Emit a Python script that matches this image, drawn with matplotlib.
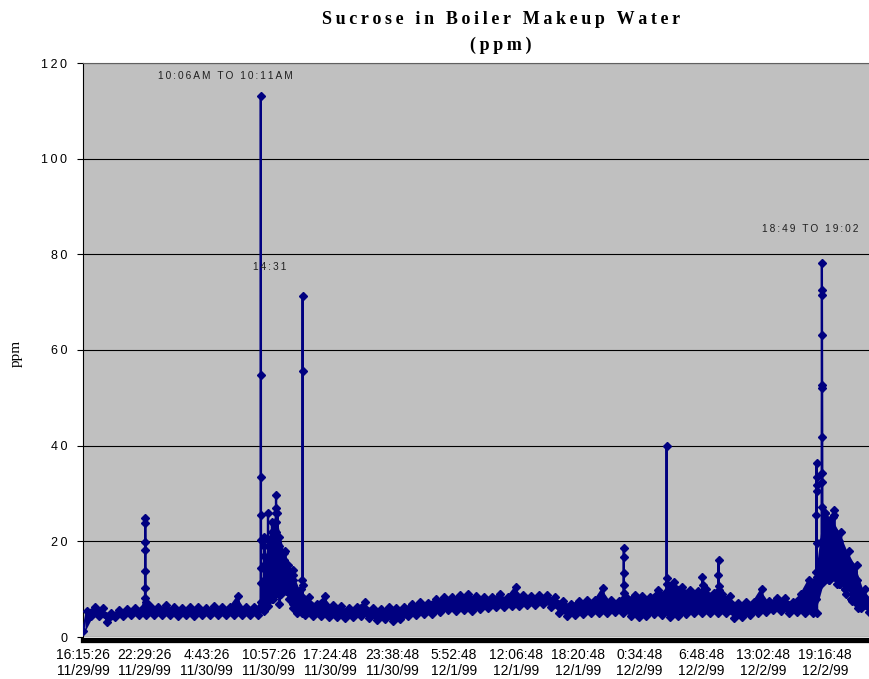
import numpy as np
import matplotlib.pyplot as plt

# category axis: one sample per minute, a label every 374 samples
tick_labels = ['16:15:26\n11/29/99', '22:29:26\n11/29/99', '4:43:26\n11/30/99',
               '10:57:26\n11/30/99', '17:24:48\n11/30/99', '23:38:48\n11/30/99',
               '5:52:48\n12/1/99', '12:06:48\n12/1/99', '18:20:48\n12/1/99',
               '0:34:48\n12/2/99', '6:48:48\n12/2/99', '13:02:48\n12/2/99',
               '19:16:48\n12/2/99']
label_every = 374
n_samples = 4760

# baseline band, low / high reading every 48 samples (ppm)
band_step = 48
band_lo = [1.2, 4.4, 4.3, 3.2, 4.2, 4.4, 4.6, 4.6, 4.7, 4.6,
           4.6, 4.5, 4.4, 4.5, 4.4, 4.5, 4.6, 4.6, 4.5, 4.7,
           4.6, 4.6, 4.7, 6.5, 8.0, 9.0, 8.0, 5.0, 4.5, 4.4,
           4.4, 4.2, 4.2, 4.0, 4.2, 4.4, 4.0, 3.6, 3.8, 3.3,
           3.8, 4.3, 4.6, 4.8, 4.8, 5.2, 5.6, 5.5, 5.6, 5.5,
           5.8, 6.0, 6.2, 6.3, 6.5, 6.5, 6.6, 6.7, 6.8, 6.3,
           5.0, 4.4, 4.5, 4.8, 5.0, 5.0, 5.0, 5.2, 5.0, 4.4,
           4.2, 4.4, 4.8, 4.6, 4.2, 4.4, 4.8, 5.0, 5.0, 5.0,
           5.0, 5.0, 4.0, 4.2, 4.6, 5.0, 5.3, 5.6, 5.4, 5.0,
           5.2, 5.0, 5.0, 11.0, 12.0, 11.0, 10.0, 8.0, 6.0, 5.2]
band_hi = [5.5, 6.3, 6.0, 5.0, 5.6, 5.9, 6.0, 6.1, 6.4, 6.3,
           6.6, 6.2, 6.0, 6.2, 6.3, 6.1, 6.4, 6.3, 6.2, 8.5,
           6.2, 6.3, 6.6, 20.0, 26.0, 18.0, 14.0, 10.0, 8.4, 7.0,
           8.5, 6.6, 6.4, 6.0, 6.3, 7.3, 6.0, 5.9, 6.3, 6.0,
           6.3, 7.0, 7.4, 7.2, 8.0, 8.3, 8.4, 8.8, 9.0, 8.6,
           8.4, 8.3, 9.0, 8.4, 10.5, 8.7, 8.6, 8.7, 8.8, 8.3,
           7.6, 7.0, 7.6, 7.8, 7.7, 10.2, 7.8, 7.6, 8.2, 8.8,
           8.5, 8.3, 9.8, 9.5, 11.5, 10.5, 9.8, 9.6, 10.0, 9.2,
           9.0, 8.6, 7.2, 7.3, 7.4, 10.0, 7.6, 8.2, 8.2, 7.4,
           9.0, 12.0, 12.5, 26.0, 25.0, 22.0, 18.0, 15.0, 10.0, 8.0]

# short events: sample position and the consecutive readings there (ppm)
spike_pos = [375, 1074, 1094, 1118, 1142, 1166, 1184, 1214, 1238, 1269,
             1327, 3269, 3529, 3746, 3843, 4435, 4467, 4489, 4513, 4543,
             4574, 4610, 4646, 4683]
spike_vals = [
    [8.1, 13.7, 23.8, 24.8, 19.9, 18.2, 10.2, 7.4],
    [7.4, 14.4, 33.5, 113.0, 54.8, 25.5, 20.3, 11.3, 6.5],
    [5.5, 12.0, 19.0, 15.0, 9.0, 17.0, 21.0, 10.0],
    [6.5, 20.5, 25.9, 14.5, 7.5],
    [9.0, 18.0, 24.0, 17.0, 11.0, 22.0, 14.0, 8.0],
    [12.0, 22.0, 27.0, 29.7, 26.0, 20.0, 16.0, 10.0, 24.0, 13.0],
    [9.0, 17.0, 21.0, 12.0, 19.0, 7.0],
    [10.0, 16.0, 13.0, 17.5, 11.0],
    [9.5, 14.0, 11.0, 15.0, 10.0],
    [7.0, 13.0, 9.0, 12.0, 6.0],
    [5.0, 11.9, 55.7, 71.3, 10.9, 6.0],
    [6.0, 9.1, 13.3, 16.8, 18.7, 10.9, 8.1, 6.5],
    [6.0, 12.3, 39.9, 11.0, 7.0],
    [7.0, 12.5, 10.9, 7.0],
    [6.5, 13.0, 16.1, 10.7, 9.8, 6.5],
    [8.0, 13.6, 25.5, 33.5, 36.3, 31.8, 30.5, 19.6, 12.0, 5.0],
    [12.0, 34.3, 52.0, 72.5, 78.1, 71.5, 63.1, 52.7, 41.9, 32.5, 27.2, 20.0, 14.0],
    [12.0, 20.0, 26.0, 16.0, 22.0, 13.0],
    [12.0, 18.0, 24.0, 15.0, 21.0, 13.0],
    [13.0, 20.0, 26.6, 25.5, 18.0, 22.0, 14.0],
    [11.0, 16.0, 20.0, 13.0, 18.0, 11.0],
    [10.0, 15.0, 17.0, 12.0, 14.0, 9.0],
    [8.0, 13.0, 15.0, 10.0, 12.0, 7.5],
    [7.0, 10.0, 12.0, 8.0, 6.0],
]

notes = ['10:06AM TO 10:11AM', '14:31', '18:49 TO 19:02']
note_x = [861, 1130, 4399]
note_y = [117.3, 77.4, 85.3]

NAVY = '#000080'
SERIF = ['Liberation Serif', 'DejaVu Serif']
plt.rcParams['font.family'] = ['Liberation Sans', 'DejaVu Sans']


def spaced(s, sep='\u2009'):
    return sep.join(s)


# assemble one time-ordered series
band_x = np.arange(len(band_lo)) * band_step
pts = []
for x, lo, hi in zip(band_x, band_lo, band_hi):
    pts.append((x, lo))
    pts.append((x + band_step / 2, hi))
for pos, vals in zip(spike_pos, spike_vals):
    for i, v in enumerate(vals):
        pts.append((pos + i * 0.5, v))
pts.sort(key=lambda p: p[0])
xs = [p[0] for p in pts]
ys = [p[1] for p in pts]

fig = plt.figure(figsize=(8.7, 6.79), dpi=100)
ax = fig.add_axes([83 / 870, 1 - 637 / 679, 1 - 83 / 870, (637 - 63) / 679])
ax.set_facecolor('#c0c0c0')

# the dense readings merge into a solid band
ax.fill_between(band_x + band_step / 4, band_lo, band_hi, color=NAVY, lw=0, zorder=2)
ax.plot(xs, ys, color=NAVY, lw=1.6, marker='D', ms=4.5,
        mec=NAVY, mfc=NAVY, zorder=3)

ax.set_xlim(0, n_samples)
ax.set_ylim(0, 120)
ax.set_yticks(range(0, 121, 20))
ax.set_yticklabels([spaced(str(v)) for v in range(0, 121, 20)], fontsize=9)
ax.set_xticks(np.arange(len(tick_labels)) * label_every)
ax.set_xticklabels(tick_labels, fontsize=9, linespacing=0.95)
ax.tick_params(axis='x', length=0, pad=6)
ax.tick_params(axis='y', length=4.5, width=0.8, direction='out', pad=7)
ax.grid(axis='y', color='black', lw=0.8, zorder=1)
ax.set_axisbelow(True)

ax.spines['right'].set_visible(False)
ax.spines['top'].set_color('#606060')
ax.spines['top'].set_linewidth(0.8)
ax.spines['left'].set_linewidth(0.8)
ax.spines['bottom'].set_linewidth(3.8)
ax.spines['bottom'].set_position(('outward', 2))

for t, x, y in zip(notes, note_x, note_y):
    ax.text(x, y, spaced(t), ha='center', va='center', fontsize=7.3,
            color='#202020', zorder=4)

fig.text(501 / 870, 1 - 20 / 679, spaced('Sucrose in Boiler Makeup Water'),
         ha='center', va='center', fontsize=13, fontweight='bold', family=SERIF)
fig.text(501 / 870, 1 - 45 / 679, spaced('(ppm)'),
         ha='center', va='center', fontsize=13, fontweight='bold', family=SERIF)
fig.text(16 / 870, 1 - 353 / 679, 'ppm', rotation=90, ha='center', va='center',
         fontsize=11, family=SERIF)

fig.savefig('out.png', dpi=100)
